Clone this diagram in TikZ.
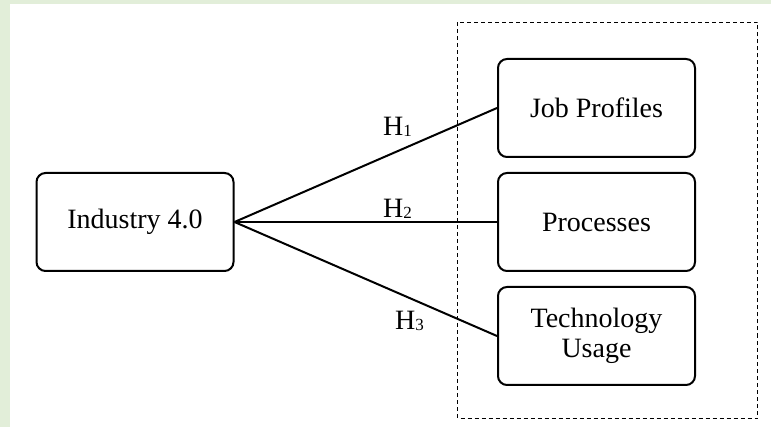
\documentclass[tikz,border=0pt]{standalone}
\usepackage{fontspec}
\setmainfont{Liberation Serif}
\definecolor{bggreen}{RGB}{226,238,217}
\newcommand{\hsubdigit}[1]{\raisebox{-1pt}{\fontsize{17}{17}\selectfont #1}}
\tikzset{
  box/.style={draw, line width=2pt, rounded corners=9pt, minimum width=197pt, minimum height=98pt, align=center, inner sep=0pt, font=\fontsize{28}{30}\selectfont},
  link/.style={line width=2pt},
  hlabel/.style={anchor=base west, inner sep=0pt, font=\fontsize{28}{30}\selectfont},
  dashbox/.style={draw, line width=1pt, dash pattern=on 4pt off 3pt}
}
\begin{document}
\begin{tikzpicture}[x=1pt,y=-1pt]
\useasboundingbox (0,0) rectangle (771,427);
\fill[bggreen] (0,0) rectangle (771,427);
\fill[white] (10,4) rectangle (771,427);
\draw[dashbox] (457.5,22.5) rectangle (757.5,418.5);
\node[box] (ind) at (135,222) {Industry 4.0};
\node[box] (job) at (596.5,108) {Job Profiles};
\node[box] (proc) at (596.5,222) {Processes};
\node[box] (tech) at (596.5,336) {Technology\\Usage};
\draw[link] (ind.east) -- (job.west);
\draw[link] (ind.east) -- (proc.west);
\draw[link] (ind.east) -- (tech.west);
\node[hlabel] (h1) at (383,136) {H\hsubdigit{1}};
\node[hlabel] (h2) at (383,217.5) {H\hsubdigit{2}};
\node[hlabel] (h3) at (395,330) {H\hsubdigit{3}};
\end{tikzpicture}
\end{document}
